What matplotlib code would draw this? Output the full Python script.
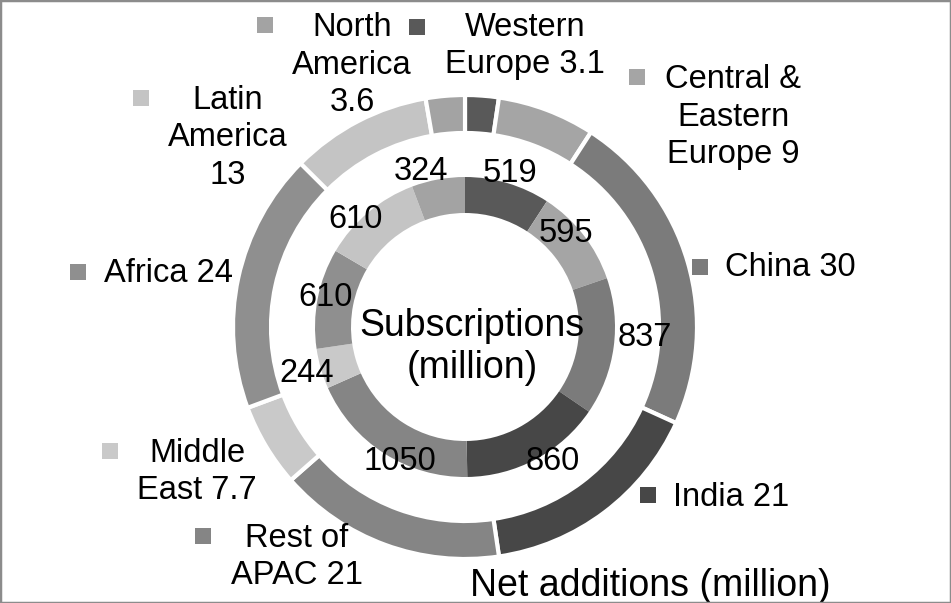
import matplotlib
matplotlib.use("Agg")
import matplotlib.pyplot as plt
from matplotlib.patches import Rectangle

plt.rcParams["font.family"] = ["Liberation Sans", "DejaVu Sans"]

# data (clockwise from 12 o'clock)
regions = ["Western Europe", "Central & Eastern Europe", "China", "India",
           "Rest of APAC", "Middle East", "Africa", "Latin America", "North America"]
net_additions = [3.1, 9, 30, 21, 21, 7.7, 24, 13, 3.6]
subscriptions = [519, 595, 837, 860, 1050, 244, 610, 610, 324]
outer_labels = ["Western\nEurope 3.1", "Central &\nEastern\nEurope 9", "China 30", "India 21",
                "Rest of\nAPAC 21", "Middle\nEast 7.7", "Africa 24", "Latin\nAmerica\n13",
                "North\nAmerica\n3.6"]
colors = ["#595959", "#a5a5a5", "#7b7b7b", "#474747", "#858585",
          "#c9c9c9", "#8f8f8f", "#c4c4c4", "#a3a3a3"]

W, H = 951, 603
CX, CY = 465, H - 327

# layout: (marker x, marker y, text x, text y) in pixels from top-left
outer_pos = [(417, 27, 525, 46), (637, 77, 733, 117), (700, 267, 790, 267),
             (648, 495, 731, 497), (203, 536, 297, 557), (110, 451, 197, 472),
             (78, 272, 168, 273), (141, 98, 228, 138), (265, 25, 352, 65)]
inner_pos = [(510, 173), (566, 234), (645, 337), (553, 462), (400, 462),
             (307, 373), (326, 297), (356, 220), (421, 172)]

fig = plt.figure(figsize=(W / 100, H / 100), dpi=100)
ax = fig.add_axes([0, 0, 1, 1])

ax.pie(net_additions, radius=232, center=(CX, CY), startangle=90, counterclock=False,
       colors=colors, wedgeprops=dict(width=38, edgecolor="white", linewidth=3))
ax.pie(subscriptions, radius=150, center=(CX, CY), startangle=90, counterclock=False,
       colors=colors, wedgeprops=dict(width=36, edgecolor="none", linewidth=0))

ax.set_xlim(0, W)
ax.set_ylim(0, H)
ax.set_aspect("equal")
ax.axis("off")

for lab, c, (mx, my, tx, ty) in zip(outer_labels, colors, outer_pos):
    ax.add_patch(Rectangle((mx - 8, H - my - 8), 16, 16, color=c, lw=0))
    ax.text(tx, H - ty, lab, ha="center", va="center", fontsize=23.5,
            linespacing=1.27, color="black")

for v, (tx, ty) in zip(subscriptions, inner_pos):
    ax.text(tx, H - ty, str(v), ha="center", va="center", fontsize=23.5)

ax.text(472, H - 347, "Subscriptions\n(million)", ha="center", va="center",
        fontsize=27, linespacing=1.2)
ax.text(650, H - 586, "Net additions (million)", ha="center", va="center", fontsize=27)

fig.patches.append(Rectangle((0, 0), 1, 1, transform=fig.transFigure, fill=False,
                             edgecolor="#8c8c8c", linewidth=2.5))

fig.savefig("out.png", dpi=100)
